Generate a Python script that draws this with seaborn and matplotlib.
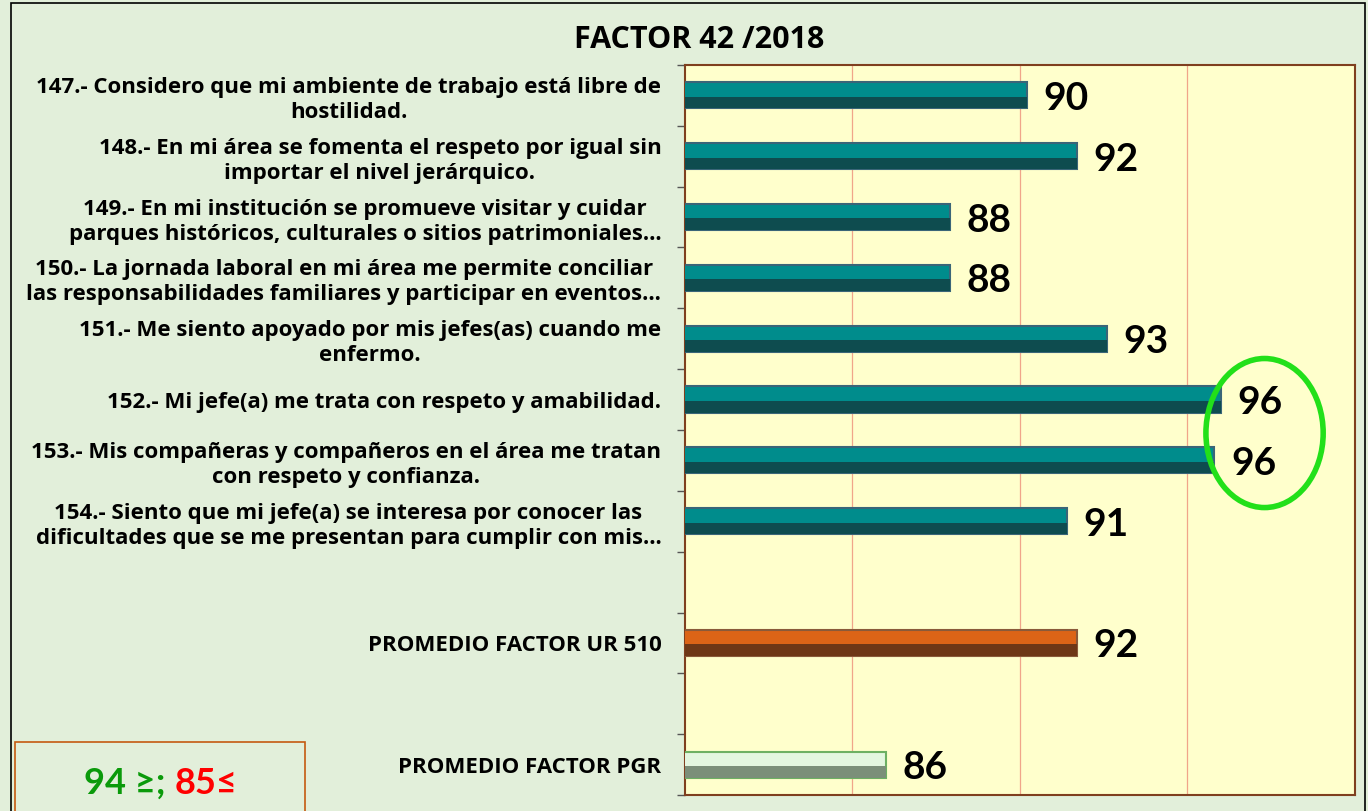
import pandas as pd
import numpy as np
import matplotlib.pyplot as plt
import seaborn as sns
from matplotlib.patches import Rectangle, Ellipse

# datos
preguntas = [
    "147.- Considero que mi ambiente de trabajo está libre de\nhostilidad.",
    "148.- En mi área se fomenta el respeto por igual sin\nimportar el nivel jerárquico.",
    "149.- En mi institución se promueve visitar y cuidar\nparques históricos, culturales o sitios patrimoniales…",
    "150.- La jornada laboral en mi área me permite conciliar\nlas responsabilidades familiares y participar en eventos…",
    "151.- Me siento apoyado por mis jefes(as) cuando me\nenfermo.",
    "152.- Mi jefe(a) me trata con respeto y amabilidad.",
    "153.- Mis compañeras y compañeros en el área me tratan\ncon respeto y confianza.",
    "154.- Siento que mi jefe(a) se interesa por conocer las\ndificultades que se me presentan para cumplir con mis…",
    "PROMEDIO FACTOR UR 510",
    "PROMEDIO FACTOR PGR",
]
valores = [90.2, 91.7, 87.9, 87.9, 92.6, 96.0, 95.8, 91.4, 91.7, 86.0]
etiquetas = ["90", "92", "88", "88", "93", "96", "96", "91", "92", "86"]
orden = preguntas[:8] + [" "] + [preguntas[8]] + ["  "] + [preguntas[9]]

# colores: parte superior, parte inferior, borde
col_sup = ["#008C8C"] * 8 + ["#DC6417", "#E3F6DF"]
col_inf = ["#0E4C4F"] * 8 + ["#6E3716", "#7B8F79"]
col_borde = ["#3A6578"] * 8 + ["#8A5A3A", "#6DB062"]

df = pd.DataFrame({"pregunta": preguntas, "valor": valores})

sns.set_theme(style="white")
plt.rcParams["font.family"] = ["Open Sans", "DejaVu Sans"]
plt.rcParams["text.color"] = "black"
plt.rcParams["ytick.color"] = "black"

fig = plt.figure(figsize=(13.68, 8.11), dpi=100)
fig.patch.set_facecolor("#E2EFDA")
ax = fig.add_axes([0.5007, 0.0197, 0.4898, 0.9002])
ax.set_facecolor("#FFFFCC")

sns.barplot(data=df, x="valor", y="pregunta", hue="pregunta", order=orden,
            palette=dict(zip(preguntas, col_sup)), legend=False, width=0.43,
            saturation=1, ax=ax, zorder=3)

ax.set_xlim(80, 100)
ax.set_xticks([85, 90, 95])
ax.xaxis.grid(True, color="#F0A58A", lw=0.9)
ax.set_axisbelow(True)
ax.tick_params(axis="x", length=0, labelbottom=False)
ax.set_xlabel("")
ax.set_ylabel("")

# efecto de dos tonos en cada barra
for p, ci, cb, et in zip(ax.patches, col_inf, col_borde, etiquetas):
    x, y, w, h = p.get_x(), p.get_y(), p.get_width(), p.get_height()
    p.set_edgecolor(cb)
    p.set_linewidth(1.5)
    ax.add_patch(Rectangle((x, y + h * 0.55), w, h * 0.45, facecolor=ci,
                           edgecolor="none", zorder=3.5))
    ax.text(x + w + 0.5, y + h / 2 + 0.05, et, va="center", ha="left",
            fontsize=28, fontweight="bold", color="black", zorder=5,
            family=["Lato", "DejaVu Sans"])

ax.set_yticks(range(len(orden)))
ax.set_yticklabels(orden, fontsize=16, fontweight="bold",
                   multialignment="center", linespacing=1.25)
ax.tick_params(axis="y", length=0, pad=17)
ax.set_yticks(np.arange(-0.5, len(orden), 1), minor=True)
ax.tick_params(axis="y", which="minor", left=True, length=6, width=1,
               color="#555555", direction="out")

for s in ax.spines.values():
    s.set_color("#7F3F1F")
    s.set_linewidth(1.5)

# óvalo verde sobre los 96
ax.add_patch(Ellipse((97.3, 5.55), 3.5, 2.45, fill=False, edgecolor="#22E01A",
                     lw=4, zorder=6, clip_on=False))

fig.text(0.511, 0.951, "FACTOR 42 /2018", ha="center", va="center",
         fontsize=22, fontweight="bold")

# marco exterior y recuadro de criterio
fig.patches.append(Rectangle((0.008, -0.05), 0.99, 1.046, transform=fig.transFigure,
                             fill=False, edgecolor="black", lw=1.2))
fig.patches.append(Rectangle((0.011, -0.05), 0.212, 0.135, transform=fig.transFigure,
                             facecolor="#E2EFDA", edgecolor="#C55A11", lw=1.2))
fig.text(0.121, 0.034, "94 ≥;", ha="right", va="center", fontsize=26,
         fontweight="bold", color="#0A9A0A", family=["Lato", "DejaVu Sans"])
fig.text(0.128, 0.034, "85≤", ha="left", va="center", fontsize=26,
         fontweight="bold", color="#FF0000", family=["Lato", "DejaVu Sans"])

fig.savefig("out.png", dpi=100, facecolor=fig.get_facecolor())
